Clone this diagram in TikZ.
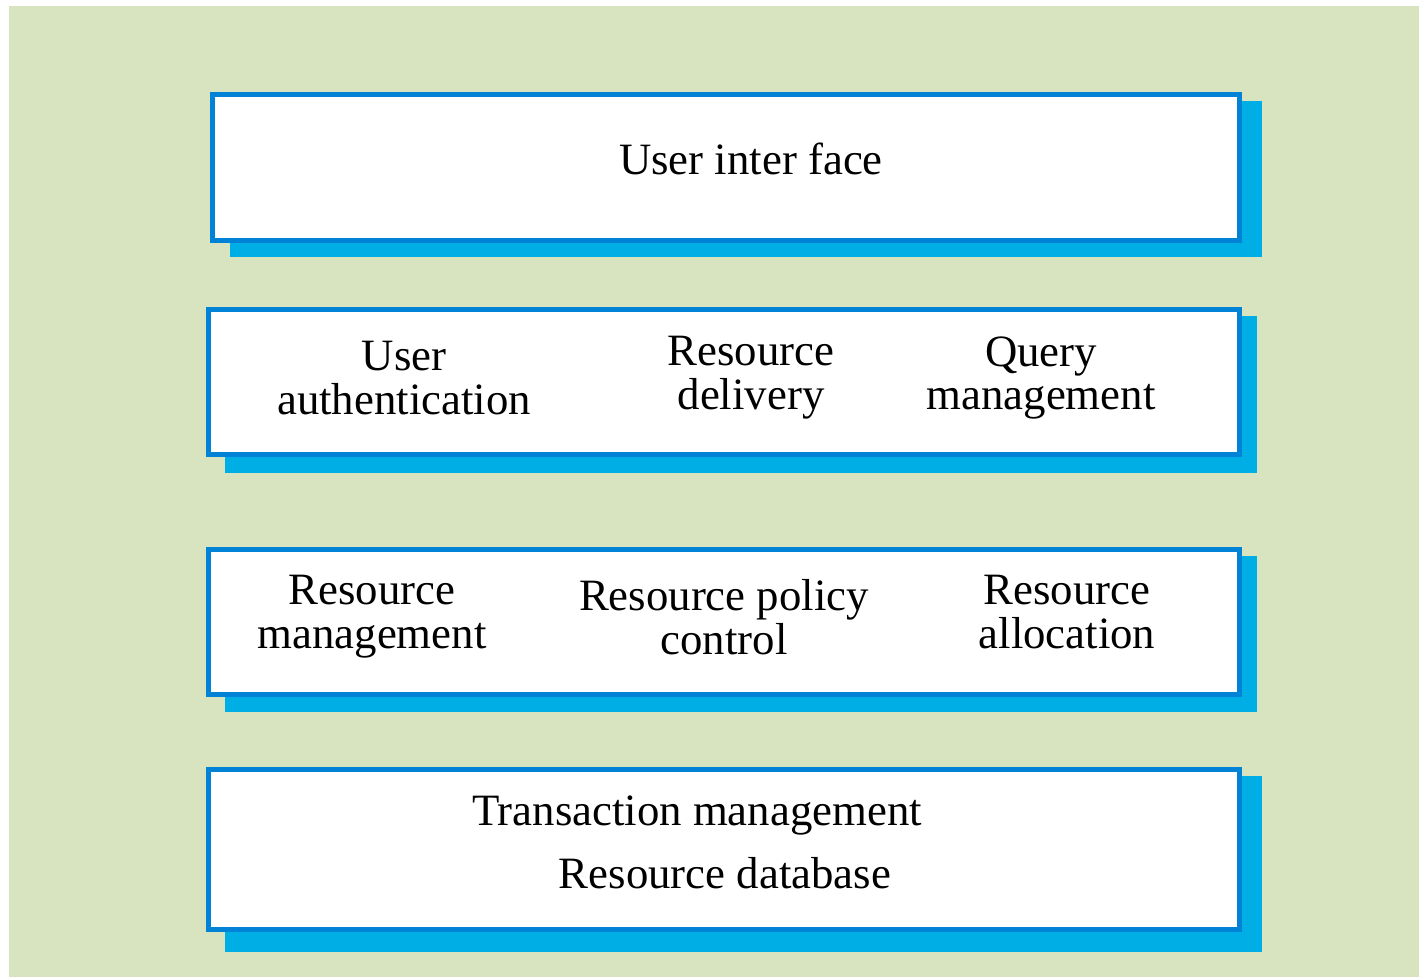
\documentclass[tikz,border=0pt]{standalone}
\usepackage{fontspec}
\setmainfont{Liberation Serif}
\definecolor{bggreen}{RGB}{216,227,191}
\definecolor{edgeblue}{RGB}{0,130,214}
\definecolor{shadeblue}{RGB}{0,174,230}
\tikzset{
  layerbox/.style={fill=white, draw=edgeblue, line width=5*0.02cm},
  layershade/.style={fill=shadeblue},
  label/.style={font=\fontsize{25.5}{25}\selectfont, align=center, inner sep=0pt}
}
\begin{document}
\begin{tikzpicture}[x=0.02cm, y=-0.02cm]
            \useasboundingbox (0,0) rectangle (1419,977);
            \fill[bggreen] (9,6) rectangle (1419,977);
            % layers: shadow first, then the white box
            \fill[layershade] (230,101) rectangle (1262,257);
            \filldraw[layerbox] (212.5,94.5) rectangle (1239.5,240.5);
            \fill[layershade] (225,316) rectangle (1257,473);
            \filldraw[layerbox] (208.5,309.5) rectangle (1239.5,454.5);
            \fill[layershade] (225,556) rectangle (1257,712);
            \filldraw[layerbox] (208.5,549.5) rectangle (1239.5,694.5);
            \fill[layershade] (225,776) rectangle (1262,952);
            \filldraw[layerbox] (208.5,769.5) rectangle (1239.5,929.5);
            % texts
            \node[label] (ui) at (751,159) {User inter face};
            \node[label] (auth) at (404,378) {User\\authentication};
            \node[label] (deliv) at (751,378) {Resource\\delivery};
            \node[label] (query) at (1041,378) {Query\\management};
            \node[label] (mgmt) at (372,617) {Resource\\management};
            \node[label] (policy) at (724,617) {Resource policy\\control};
            \node[label] (alloc) at (1067,612) {Resource\\allocation};
            \node[label] (trans) at (697,815) {Transaction management};
            \node[label] (db) at (725,873) {Resource database};
\end{tikzpicture}
\end{document}
